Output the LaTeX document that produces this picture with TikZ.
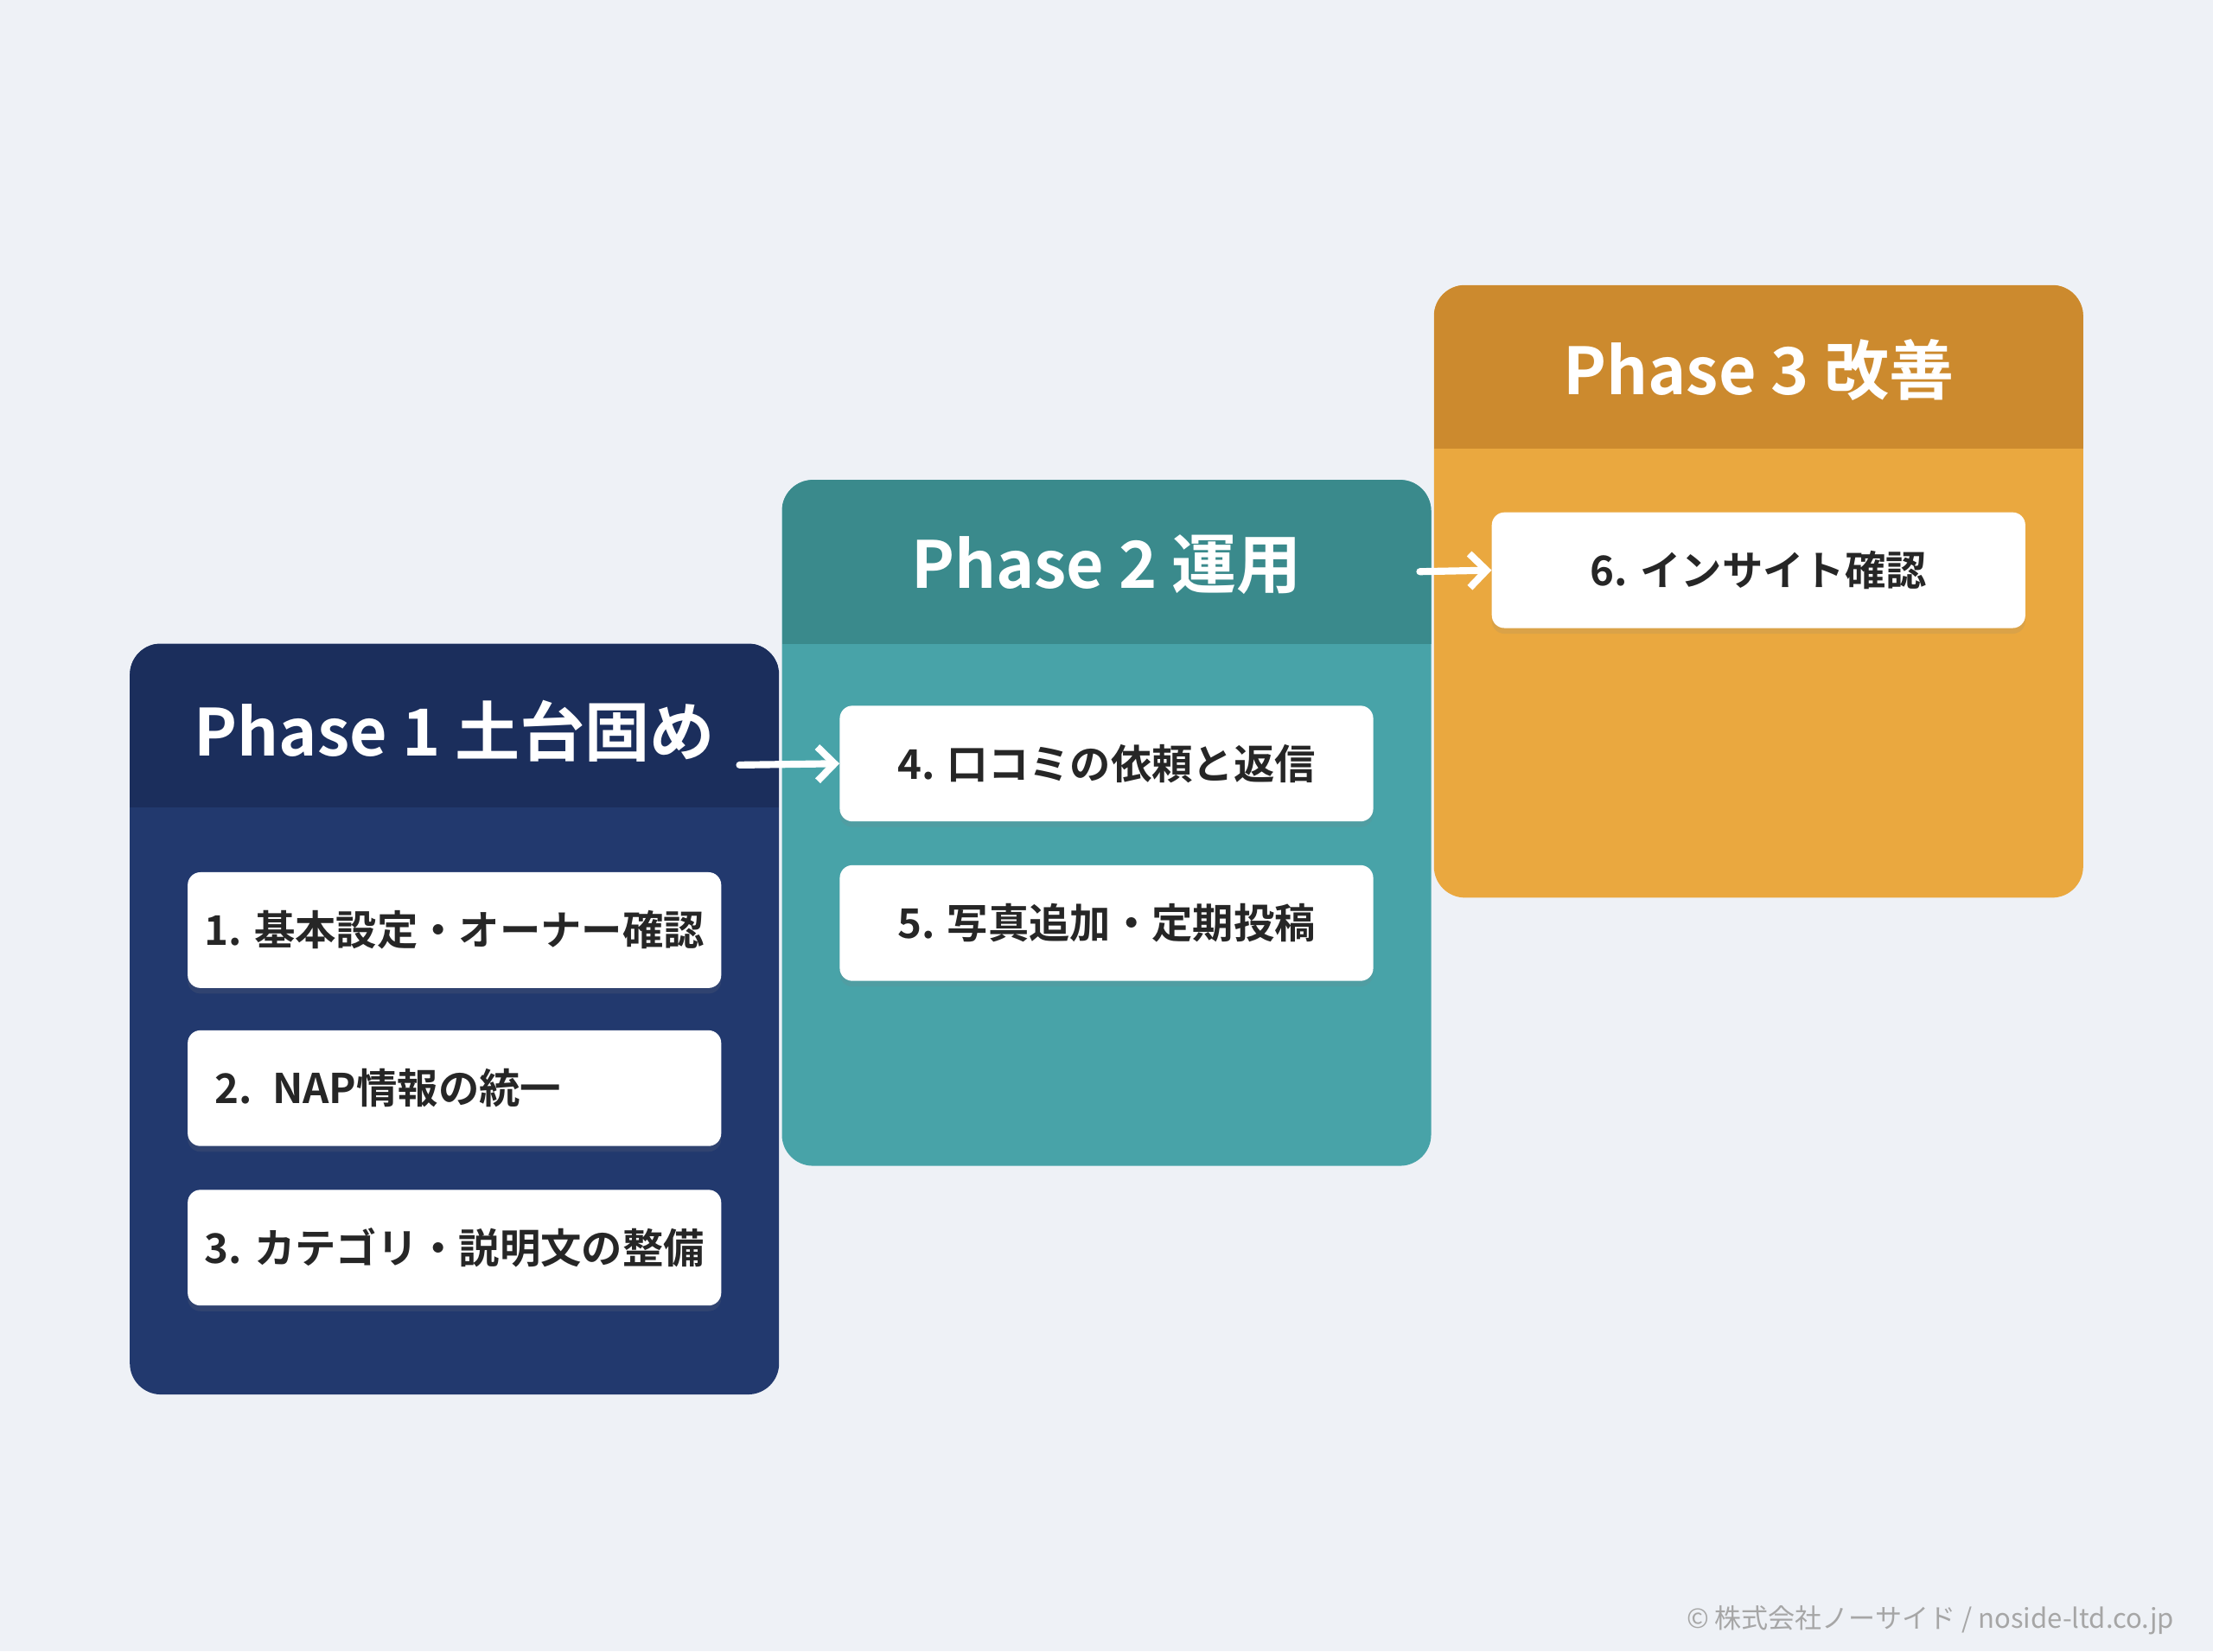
\documentclass[tikz,border=0pt]{standalone}
\usepackage{fontspec}
\setmainfont{Noto Sans CJK JP}
\newfontfamily\boldjp{Noto Sans CJK JP Bold}
\usetikzlibrary{shadows}
\definecolor{bg}{HTML}{EEF1F6}
\definecolor{pAh}{HTML}{1B2E5C}\definecolor{pAb}{HTML}{22396E}
\definecolor{pBh}{HTML}{3A8A8C}\definecolor{pBb}{HTML}{48A3A8}
\definecolor{pCh}{HTML}{CC8A2E}\definecolor{pCb}{HTML}{EAA83F}
\tikzset{
 item/.style={fill=white,rounded corners=9pt,minimum width=378pt,minimum height=82pt,font=\boldjp\fontsize{29}{32}\selectfont,text=black!85,drop shadow={opacity=0.15,shadow xshift=0pt,shadow yshift=-4pt}},
 ttl/.style={text=white,font=\boldjp\fontsize{46}{50}\selectfont},
 arr/.style={white,line width=5pt,-{Straight Barb[length=12pt,width=24pt]},line cap=round}
}
\usetikzlibrary{arrows.meta}
\newcommand{\phasebox}[6]{%
 \fill[#5,rounded corners=22pt] (#1,#2) rectangle (#3,#4);
 \begin{scope}
 \clip[rounded corners=22pt] (#1,#2) rectangle (#3,#4);
 \fill[#6] (#1,#2) rectangle (#3,#2+116);
 \end{scope}}
\begin{document}
\begin{tikzpicture}[x=1pt,y=-1pt]
\fill[bg] (0,0) rectangle (1568,1170);
\useasboundingbox (0,0) rectangle (1568,1170);
\phasebox{92}{456}{552}{988}{pAb}{pAh}
\phasebox{554}{340}{1014}{826}{pBb}{pBh}
\phasebox{1016}{202}{1476}{636}{pCb}{pCh}
\node[ttl] (t1) at (322,518) {Phase 1 土台固め};
\node[ttl] (t2) at (784,400) {Phase 2 運用};
\node[ttl] (t3) at (1246,262) {Phase 3 改善};
\node[item] (i1) at (322,659) {1. 基本設定・オーナー確認};
\node[item,text width=340pt,align=left] (i2) at (322,771) {2. NAP情報の統一};
\node[item] (i3) at (322,884) {3. カテゴリ・説明文の整備};
\node[item] (i4) at (784,541) {4. 口コミの依頼と返信};
\node[item] (i5) at (784,654) {5. 写真追加・定期投稿};
\node[item] (i6) at (1246,404) {6. インサイト確認};
\coordinate (a1) at (524,542);
\coordinate (b1) at (1006,405);
\draw[arr] (a1) -- (i4.west);
\draw[arr] (b1) -- (i6.west);
\node[anchor=east,text=black!35,font=\fontsize{19}{22}\selectfont] (f) at (1544,1148) {© 株式会社ノーサイド / noside-ltd.co.jp};
\end{tikzpicture}
\end{document}
